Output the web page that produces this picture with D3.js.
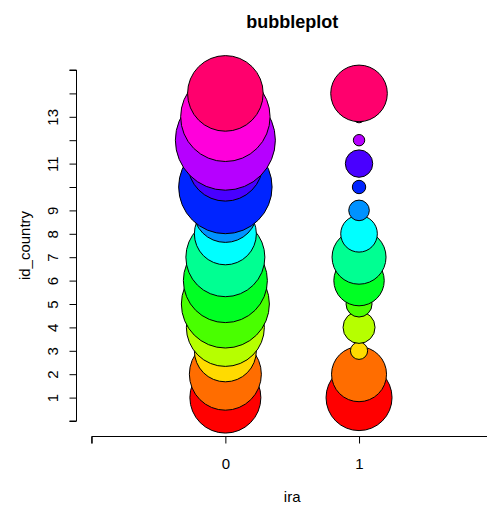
<!DOCTYPE html>
<html>
<head>
<meta charset="utf-8">
<script src="https://cdn.jsdelivr.net/npm/d3@7"></script>
<style>
  html, body { margin: 0; padding: 0; background: #fff; }
  svg { display: block; font-family: "Liberation Sans", Arial, sans-serif; }
</style>
</head>
<body>
<script>
// ---- data ----
const idCountry = [1, 2, 3, 4, 5, 6, 7, 8, 9, 10, 11, 12, 13, 14];
const sizeIra0 = [35.5, 36, 31, 39, 44, 42, 39.5, 31, 32, 46.7, 37.5, 50, 44.7, 37.8];
const sizeIra1 = [33, 27.5, 8.6, 16, 13, 25.2, 27, 18.3, 10.3, 6.7, 13.7, 5.7, 6, 28.3];
const palette = ["#FF0000", "#FF6D00", "#FFDB00", "#B6FF00", "#49FF00", "#00FF24", "#00FF92",
                 "#00FFFF", "#0092FF", "#0024FF", "#4900FF", "#B600FF", "#FF00DB", "#FF006D"];
const xTicks = [-1, 0, 1, 2];
const xTickLabels = ["", "0", "1", ""];
const yTicks = [0, 1, 2, 3, 4, 5, 6, 7, 8, 9, 10, 11, 12, 13, 14, 15];
const yTickLabels = ["", "1", "2", "3", "4", "5", "6", "7", "8", "9", "", "11", "", "13", "", ""];

const rows = [];
idCountry.forEach((id, i) => rows.push({ ira: 0, id, size: sizeIra0[i] }));
idCountry.forEach((id, i) => rows.push({ ira: 1, id, size: sizeIra1[i] }));

// ---- layout ----
const W = 487, H = 506;
const svg = d3.select("body").append("svg").attr("width", W).attr("height", H);

const x = d3.scaleLinear().domain([-1, 2]).range([91.7, 492.7]);
const y = d3.scaleLinear().domain([0, 15]).range([421, 70]);
const r = d3.scaleLinear().domain([0, d3.max(rows, d => d.size)]).range([0, 50]);
const color = d3.scaleOrdinal().domain(idCountry).range(palette);

// bubbles
svg.append("g").selectAll("circle").data(rows).join("circle")
  .attr("cx", d => x(d.ira))
  .attr("cy", d => y(d.id))
  .attr("r", d => r(d.size))
  .attr("fill", d => color(d.id))
  .attr("stroke", "#000")
  .attr("stroke-width", 1);

// x axis
const xAxis = d3.axisBottom(x).tickValues(xTicks)
  .tickFormat((d, i) => xTickLabels[i]).tickSize(7).tickPadding(15);
const gx = svg.append("g").attr("transform", "translate(0,436.5)").call(xAxis);
gx.select(".domain").attr("d", `M${x(-1)},7V0H${x(2)}`).attr("stroke", "#000");
gx.selectAll(".tick line").attr("stroke", "#000");
gx.selectAll(".tick text").attr("font-size", 15).attr("fill", "#000")
  .attr("font-family", "Liberation Sans, Arial, sans-serif");

// y axis
const yAxis = d3.axisLeft(y).tickValues(yTicks)
  .tickFormat((d, i) => yTickLabels[i]).tickSize(7).tickPadding(0);
const gy = svg.append("g").attr("transform", "translate(76.5,0)").call(yAxis);
gy.select(".domain").attr("d", `M-7,${y(0)}H0V${y(15)}H-7`).attr("stroke", "#000");
gy.selectAll(".tick line").attr("stroke", "#000");
gy.selectAll(".tick text")
  .attr("font-size", 15).attr("fill", "#000")
  .attr("font-family", "Liberation Sans, Arial, sans-serif")
  .attr("text-anchor", "middle")
  .attr("x", null).attr("dy", null)
  .attr("transform", "translate(-19,0) rotate(-90)");

// titles
svg.append("text").attr("x", x(0.5)).attr("y", 28)
  .attr("text-anchor", "middle").attr("font-size", 18).attr("font-weight", "bold")
  .text("bubbleplot");
svg.append("text").attr("x", x(0.5)).attr("y", 502)
  .attr("text-anchor", "middle").attr("font-size", 15).text("ira");
svg.append("text")
  .attr("transform", `translate(30,${y(7.5)}) rotate(-90)`)
  .attr("text-anchor", "middle").attr("font-size", 15).text("id_country");
</script>
</body>
</html>
